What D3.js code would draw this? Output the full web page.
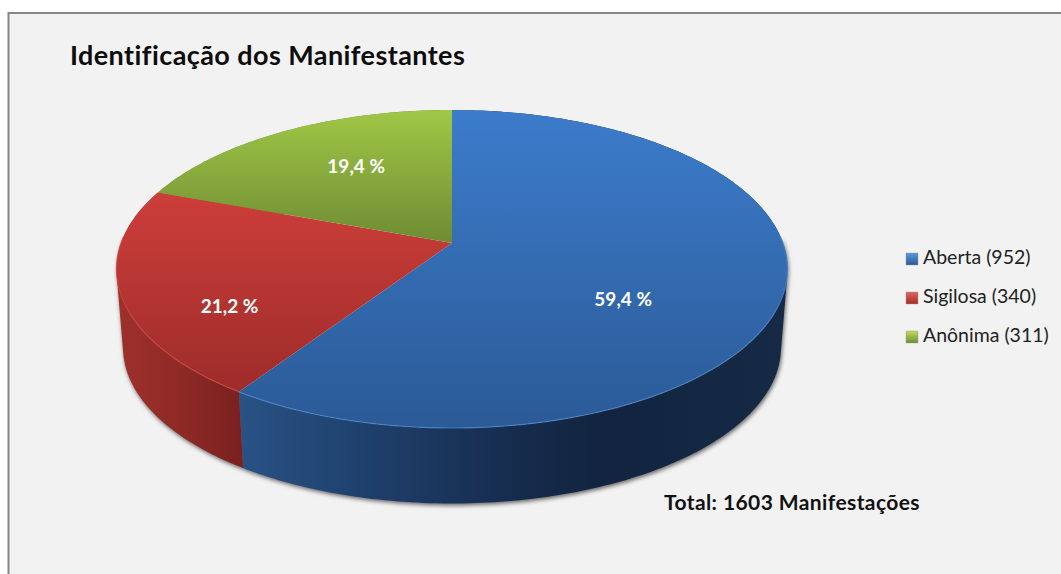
<!DOCTYPE html>
<html><head><meta charset="utf-8">
<style>html,body{margin:0;padding:0;background:#fff;overflow:hidden}svg{display:block}text{font-family:Lato,"Open Sans",sans-serif}</style>
<script src="https://cdn.jsdelivr.net/npm/d3@7"></script></head><body>
<svg id="c" width="1061" height="574"></svg>
<script>
const categories = ["Aberta", "Sigilosa", "Anônima"];
const counts = [952, 340, 311];
const percentLabels = ["59,4 %", "21,2 %", "19,4 %"];
const titleText = "Identificação dos Manifestantes";
const totalText = "Total: 1603 Manifestações";

const topColors = [["#3c7ccb","#2b5a96"],["#cd3e3a","#9d2c2a"],["#a0c746","#6e8c33"]];
const labelNudge = [[9,35],[-61,41],[-7,-15]];
const cx = 452, cy = 243, a = 331, b = 154.75, k = 0.1635, vpY = 4300, sc = 0.9805;

const svg = d3.select("#c");
const defs = svg.append("defs");
function grad(id, x1, y1, x2, y2, stops, user=true){
  const g = defs.append("linearGradient").attr("id",id)
    .attr("gradientUnits", user?"userSpaceOnUse":"objectBoundingBox")
    .attr("x1",x1).attr("y1",y1).attr("x2",x2).attr("y2",y2);
  stops.forEach(s=>g.append("stop").attr("offset",s[0]).attr("stop-color",s[1]));
}
grad("top0",0,110,0,428,[[0,topColors[0][0]],[1,topColors[0][1]]]);
grad("top1",0,192,0,392,[[0,topColors[1][0]],[1,topColors[1][1]]]);
grad("top2",0,110,0,243,[[0,topColors[2][0]],[1,topColors[2][1]]]);
grad("side0",240,0,790,0,[[0,"#295285"],[0.2,"#20426f"],[0.45,"#172f52"],[0.65,"#12243f"],[1,"#152a46"]]);
grad("side1",115,0,245,0,[[0,"#a0302c"],[0.5,"#8e2a26"],[1,"#79201e"]]);
grad("side2",115,0,452,0,[[0,"#7f9e38"],[1,"#5e7a2c"]]);
grad("leg0",0,0,0,1,[[0,"#5a97dd"],[1,"#2a5a98"]],false);
grad("leg1",0,0,0,1,[[0,"#e0605c"],[1,"#a52e2b"]],false);
grad("leg2",0,0,0,1,[[0,"#c0dc5c"],[1,"#6f8e33"]],false);
defs.append("filter").attr("id","sh").attr("x","-10%").attr("y","-10%").attr("width","120%").attr("height","120%")
  .append("feGaussianBlur").attr("stdDeviation",2);

svg.append("rect").attr("x",8.5).attr("y",13).attr("width",1060).attr("height",570)
  .attr("fill","#f2f2f2").attr("stroke","#868686").attr("stroke-width",2);

const arcs = d3.pie().sort(null).value(d=>d)(counts);

function proj(ang, r=1){
  const u = Math.sin(ang)*r, v = -Math.cos(ang)*r, d = 1 - k*v;
  return [cx + a*u/d, cy + b*v/d];
}
function lower(p){ return [cx + (p[0]-cx)*sc, vpY + (p[1]-vpY)*sc]; }
function arcAngles(s){
  const n = Math.max(8, Math.ceil((s.endAngle-s.startAngle)*60));
  return d3.range(n+1).map(i=>s.startAngle+(s.endAngle-s.startAngle)*i/n);
}
const arcPts = s => arcAngles(s).map(t=>proj(t));
const line = d3.line();
// the wall is the union of the small quads swept from the top rim to the bottom rim
const wallPath = angles => {
  const t = angles.map(x=>proj(x));
  return d3.range(Math.max(0,t.length-1)).map(i=>{
    const hull = d3.polygonHull([t[i],t[i+1],lower(t[i+1]),lower(t[i])]);
    return line(hull)+"Z";
  }).join("");
};
const sidePath = s => wallPath(arcAngles(s));
const frontAngles = s => arcAngles(s).filter(t=>Math.cos(t)<0.05);
const topPath = s => line([[cx,cy]].concat(arcPts(s)))+"Z";
// rim highlight only on the part of the edge that faces the viewer
const rimPath = s => {
  const pts = frontAngles(s).map(t=>proj(t));
  return pts.length>1 ? line(pts) : null;
};

// soft shadow under the front of the solid only
svg.append("g").attr("filter","url(#sh)").attr("transform","translate(1,2)")
  .selectAll("path").data(arcs).join("path").attr("d",s=>wallPath(frontAngles(s))).attr("fill","#666");

// extruded wall
svg.append("g").selectAll("path").data(arcs).join("path")
  .attr("d",sidePath).attr("fill",(d,i)=>`url(#side${i})`);
// top face
svg.append("g").selectAll("path").data(arcs).join("path")
  .attr("d",topPath).attr("fill",(d,i)=>`url(#top${i})`);
const rimColors = ["#4f8ad2","#cf4a45","#b6d65a"];
svg.append("g").selectAll("path").data(arcs).join("path")
  .attr("d",rimPath).attr("fill","none").attr("stroke",(d,i)=>rimColors[i])
  .attr("stroke-width",1.2).attr("opacity",0.7);

svg.append("g").selectAll("text").data(arcs).join("text")
  .attr("x",(s,i)=>proj((s.startAngle+s.endAngle)/2,0.5)[0]+labelNudge[i][0])
  .attr("y",(s,i)=>proj((s.startAngle+s.endAngle)/2,0.5)[1]+labelNudge[i][1])
  .attr("text-anchor","middle").attr("dominant-baseline","middle")
  .attr("fill","#fff").attr("font-weight",700).attr("font-size",19)
  .text((s,i)=>percentLabels[i]);

svg.append("text").attr("x",70).attr("y",65).attr("font-size",27).attr("letter-spacing",0.42).attr("font-weight",700).attr("fill","#0d0d0d").text(titleText);
svg.append("text").attr("x",664).attr("y",510).attr("font-size",21).attr("letter-spacing",0.4).attr("font-weight",700).attr("fill","#111").text(totalText);

const legY = d3.scalePoint().domain(categories).range([259,337]);
const leg = svg.append("g").selectAll("g").data(categories).join("g")
  .attr("transform",d=>`translate(906,${legY(d)})`);
leg.append("rect").attr("x",0).attr("y",-6).attr("width",12).attr("height",12)
  .attr("fill",(d,i)=>`url(#leg${i})`).attr("stroke","#999").attr("stroke-width",0.4);
leg.append("text").attr("x",17).attr("y",0).attr("dominant-baseline","middle")
  .attr("font-size",19.5).attr("fill","#222").text((d,i)=>`${d} (${counts[i]})`);
</script></body></html>
